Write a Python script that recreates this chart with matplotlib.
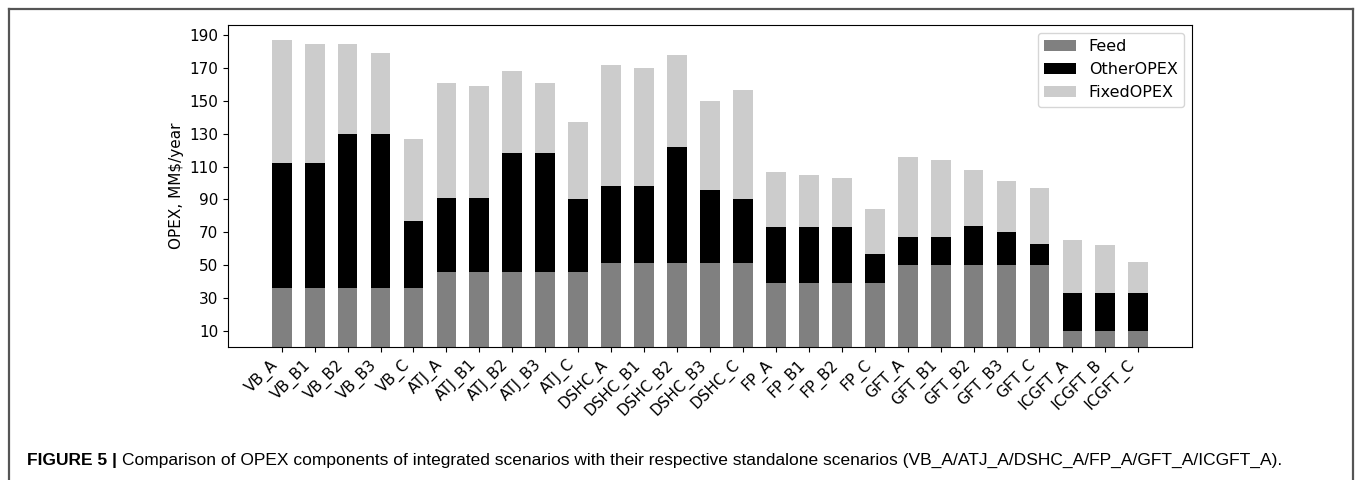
import numpy as np
import matplotlib
matplotlib.use("Agg")
import matplotlib.pyplot as plt
from matplotlib.lines import Line2D
from matplotlib import font_manager

# Scenario names
scenarios = ['VB_A', 'VB_B1', 'VB_B2', 'VB_B3', 'VB_C',
             'ATJ_A', 'ATJ_B1', 'ATJ_B2', 'ATJ_B3', 'ATJ_C',
             'DSHC_A', 'DSHC_B1', 'DSHC_B2', 'DSHC_B3', 'DSHC_C',
             'FP_A', 'FP_B1', 'FP_B2', 'FP_C',
             'GFT_A', 'GFT_B1', 'GFT_B2', 'GFT_B3', 'GFT_C',
             'ICGFT_A', 'ICGFT_B', 'ICGFT_C']

# OPEX components, MM$/year
feed = [36, 36, 36, 36, 36,
        46, 46, 46, 46, 46,
        51, 51, 51, 51, 51,
        39, 39, 39, 39,
        50, 50, 50, 50, 50,
        10, 10, 10]
other_opex = [76, 76, 94, 94, 41,
              45, 45, 72, 72, 44,
              47, 47, 71, 45, 39,
              34, 34, 34, 18,
              17, 17, 24, 20, 13,
              23, 23, 23]
fixed_opex = [75, 73, 55, 49, 50,
              70, 68, 50, 43, 47,
              74, 72, 56, 54, 67,
              34, 32, 30, 27,
              49, 47, 34, 31, 34,
              32, 29, 19]

W, H = 1355, 480
fig = plt.figure(figsize=(W / 100, H / 100), dpi=100)
ax = fig.add_axes([228 / W, 1 - 347 / H, (1192 - 228) / W, (347 - 25) / H])

x = np.arange(len(scenarios))
feed = np.array(feed)
other_opex = np.array(other_opex)
fixed_opex = np.array(fixed_opex)

ax.bar(x, feed, width=0.6, color='#808080', label='Feed')
ax.bar(x, other_opex, width=0.6, bottom=feed, color='black', label='OtherOPEX')
ax.bar(x, fixed_opex, width=0.6, bottom=feed + other_opex, color='#cccccc',
       label='FixedOPEX')

ax.set_yticks(np.arange(10, 191, 20))
ax.tick_params(labelsize=11)
ax.set_xticks(x)
ax.set_xticklabels(scenarios, rotation=45, ha='right', fontsize=11)
ax.set_ylabel('OPEX, MM$/year', fontsize=11)
ax.legend(loc='upper right', fontsize=11.5)

# Outer figure frame (open at the bottom)
fx0, fx1, fy1 = 9 / W, 1353 / W, 1 - 9 / H
for xs, ys in [([fx0, fx0], [0, fy1]), ([fx0, fx1], [fy1, fy1]), ([fx1, fx1], [fy1, 0])]:
    fig.add_artist(Line2D(xs, ys, transform=fig.transFigure, color='#555555', lw=1.6))

# Caption: bold figure number followed by regular text, in a narrow face if available
names = {f.name for f in font_manager.fontManager.ttflist}
cap_family = 'Liberation Sans Narrow' if 'Liberation Sans Narrow' in names else 'Liberation Sans'
cap_rest = ('Comparison of OPEX components of integrated scenarios with their respective '
            'standalone scenarios (VB_A/ATJ_A/DSHC_A/FP_A/GFT_A/ICGFT_A).')
cap_y = 1 - 460 / H
x_start, x_end = 27, 1282

fig.canvas.draw()
renderer = fig.canvas.get_renderer()


def place_caption(size):
    t1 = fig.text(x_start / W, cap_y, 'FIGURE 5 | ', fontsize=size, fontweight='bold',
                  family=cap_family, va='center')
    bb = t1.get_window_extent(renderer)
    t2 = fig.text(bb.x1 / W, cap_y, cap_rest, fontsize=size, family=cap_family,
                  va='center')
    return t1, t2, t2.get_window_extent(renderer).x1


t1, t2, right = place_caption(14)
size = 14 * (x_end - x_start) / (right - x_start)
t1.remove()
t2.remove()
place_caption(size)

fig.savefig('out.png', dpi=100)
